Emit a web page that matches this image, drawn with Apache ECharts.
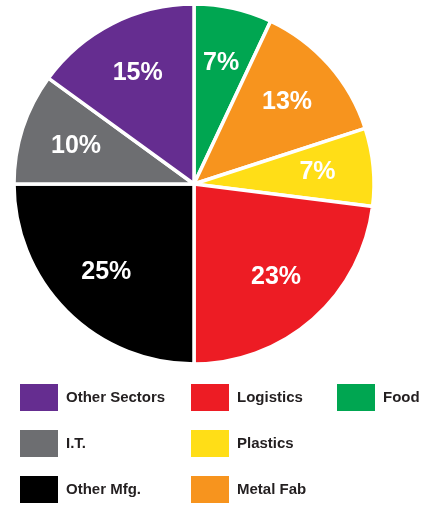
<!DOCTYPE html>
<html>
<head>
<meta charset="utf-8">
<script src="https://cdn.jsdelivr.net/npm/echarts@6/dist/echarts.min.js"></script>
<style>
html,body{margin:0;padding:0;background:#fff;}
#chart{width:430px;height:506px;}
</style>
</head>
<body>
<div id="chart"></div>
<script>
// Data (clockwise from 12 o'clock)
const categories = ['Food', 'Metal Fab', 'Plastics', 'Logistics', 'Other Mfg.', 'I.T.', 'Other Sectors'];
const values = [7, 13, 7, 23, 25, 10, 15];
const colors = ['#00A651', '#F7941E', '#FFDE17', '#ED1C24', '#000000', '#6D6E71', '#652D90'];
const legendCol1 = ['Other Sectors', 'I.T.', 'Other Mfg.'];
const legendCol2 = ['Logistics', 'Plastics', 'Metal Fab'];
const legendCol3 = ['Food'];

const colorOf = {};
categories.forEach((c, i) => { colorOf[c] = colors[i]; });

const pieData = categories.map((c, i) => ({ name: c, value: values[i], itemStyle: { color: colors[i] } }));

function legendFor(names, left) {
  return {
    orient: 'vertical',
    left: left,
    top: 384,
    height: 122,
    padding: 0,
    icon: 'rect',
    itemWidth: 38,
    itemHeight: 27,
    itemGap: 19,
    selectedMode: false,
    itemStyle: { borderWidth: 0 },
    textStyle: {
      fontFamily: 'Liberation Sans, Arial, sans-serif',
      fontWeight: 'bold',
      fontSize: 15,
      color: '#231F20',
      padding: [0, 0, 0, 3]
    },
    data: names.map(n => ({ name: n, itemStyle: { color: colorOf[n], borderWidth: 0 } }))
  };
}

const chart = echarts.init(document.getElementById('chart'), null, { renderer: 'canvas' });
chart.setOption({
  animation: false,
  backgroundColor: '#ffffff',
  legend: [legendFor(legendCol1, 20), legendFor(legendCol2, 191), legendFor(legendCol3, 337)],
  series: [
    {
      type: 'pie',
      center: [194, 184],
      radius: [0, 180],
      startAngle: 90,
      clockwise: true,
      avoidLabelOverlap: false,
      silent: true,
      itemStyle: { borderColor: '#ffffff', borderWidth: 3.5 },
      label: { show: false },
      labelLine: { show: false },
      data: pieData
    },
    {
      type: 'pie',
      center: [194, 184],
      radius: [96, 146],
      startAngle: 90,
      clockwise: true,
      avoidLabelOverlap: false,
      silent: true,
      itemStyle: { color: 'rgba(0,0,0,0)', borderWidth: 0 },
      label: {
        show: true,
        position: 'inside',
        formatter: '{c}%',
        color: '#ffffff',
        fontFamily: 'Liberation Sans, Arial, sans-serif',
        fontWeight: 'bold',
        fontSize: 25
      },
      labelLine: { show: false },
      data: categories.map((c, i) => ({ name: c, value: values[i] }))
    }
  ]
});
</script>
</body>
</html>
